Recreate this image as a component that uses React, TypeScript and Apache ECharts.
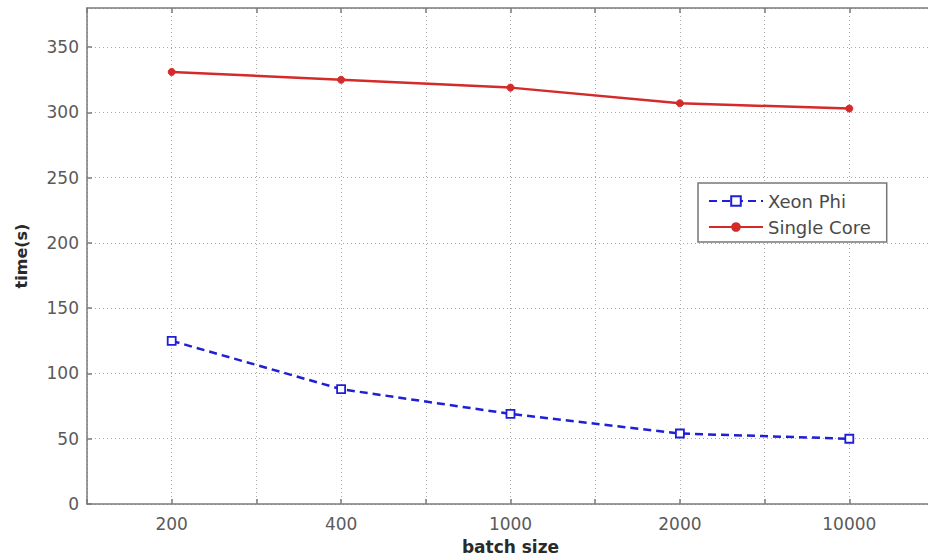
import React, { useEffect, useRef } from "react";
import * as echarts from "echarts";

const categories = ["200", "400", "1000", "2000", "10000"];
const xPositions = [1, 2, 3, 4, 5];
const xeonPhi = [125, 88, 69, 54, 50];
const singleCore = [331, 325, 319, 307, 303];
const yTicks = [0, 50, 100, 150, 200, 250, 300, 350];

export default function App() {
  const ref = useRef<HTMLDivElement>(null);
  useEffect(() => {
    if (!ref.current) return;
    const chart = echarts.init(ref.current, undefined, { renderer: "svg" });
    const font = "'DejaVu Sans', Verdana, sans-serif";
    const axisGray = "#7a7a7a";
    const labelGray = "#5a5a5a";
    const xLabel = (v: number) => {
      const i = xPositions.indexOf(v);
      return i >= 0 ? categories[i] : "";
    };
    chart.setOption({
      animation: false,
      backgroundColor: "#fff",
      grid: { left: 87, top: 8, right: 0, bottom: 56, containLabel: false },
      legend: {
        left: 698,
        top: 183,
        orient: "vertical",
        backgroundColor: "#fff",
        borderColor: "#777",
        borderWidth: 1.5,
        borderRadius: 0,
        padding: [9, 16, 6, 10],
        itemWidth: 54,
        itemHeight: 12,
        itemGap: 8,
        textStyle: { fontFamily: font, fontSize: 18, color: "#4a4a4a" },
        data: ["Xeon Phi", "Single Core"],
      },
      xAxis: [
        {
          type: "value",
          min: 0.5,
          max: 5.5,
          interval: 0.5,
          position: "bottom",
          name: "batch size",
          nameLocation: "middle",
          nameGap: 34,
          nameTextStyle: { fontFamily: font, fontSize: 17, fontWeight: "bold", color: "#2a2a2a" },
          axisLine: { show: true, lineStyle: { color: axisGray, width: 1.5 } },
          axisTick: { show: true, inside: true, length: 5, lineStyle: { color: axisGray, width: 1.5 } },
          axisLabel: { formatter: xLabel, fontFamily: font, fontSize: 17, color: labelGray, margin: 11 },
          splitLine: { show: true, lineStyle: { color: "#aaa", type: [1, 3], width: 1 } },
        },
        {
          type: "value",
          min: 0.5,
          max: 5.5,
          interval: 0.5,
          position: "top",
          axisLine: { show: true, lineStyle: { color: axisGray, width: 1.5 } },
          axisTick: { show: true, inside: true, length: 5, lineStyle: { color: axisGray, width: 1.5 } },
          axisLabel: { show: false },
          splitLine: { show: false },
        },
      ],
      yAxis: {
        type: "value",
        min: yTicks[0],
        max: 380,
        interval: 50,
        name: "time(s)",
        nameLocation: "middle",
        nameGap: 58,
        nameTextStyle: { fontFamily: font, fontSize: 16, fontWeight: "bold", color: "#2a2a2a" },
        axisLine: { show: true, lineStyle: { color: axisGray, width: 1.5 } },
        axisTick: { show: true, inside: true, length: 5, lineStyle: { color: axisGray, width: 1.5 } },
        axisLabel: {
          fontFamily: font,
          fontSize: 17,
          color: labelGray,
          margin: 8,
          showMaxLabel: false,
          formatter: (v: number) => (yTicks.includes(v) ? String(v) : ""),
        },
        splitLine: { show: true, lineStyle: { color: "#aaa", type: [1, 3], width: 1 } },
      },
      series: [
        {
          name: "Xeon Phi",
          type: "line",
          data: xPositions.map((x, i) => [x, xeonPhi[i]]),
          symbol: "rect",
          symbolSize: 8,
          lineStyle: { color: "#1f1fd6", width: 2.5, type: [8, 5] },
          itemStyle: { color: "#fff", borderColor: "#1f1fd6", borderWidth: 1.8 },
        },
        {
          name: "Single Core",
          type: "line",
          data: xPositions.map((x, i) => [x, singleCore[i]]),
          symbol: "circle",
          symbolSize: 7,
          lineStyle: { color: "#d42a2a", width: 2.5 },
          itemStyle: { color: "#d42a2a", borderColor: "#d42a2a" },
        },
      ],
    });
    return () => chart.dispose();
  }, []);
  return (
    <div style={{ position: "fixed", left: 0, top: 0, width: 928, height: 560, overflow: "hidden" }}>
      <div ref={ref} style={{ width: 937, height: 560 }} />
    </div>
  );
}
